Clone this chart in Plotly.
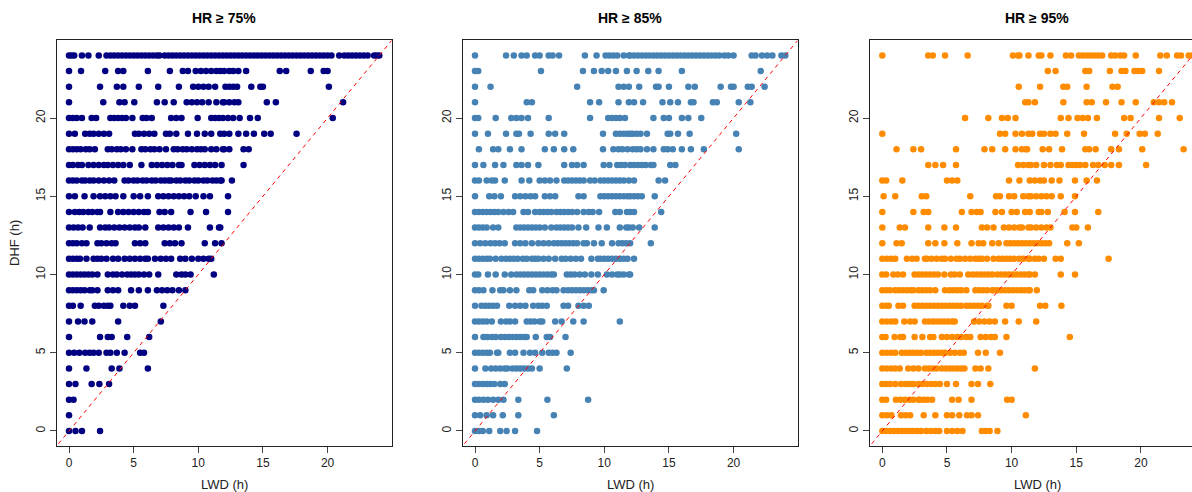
import plotly.graph_objects as go

# DHF levels (hours, integer rows 0..24)
dhf_levels = list(range(25))
tick_vals = [0, 5, 10, 15, 20]
tick_text = ["0", "5", "10", "15", "20"]
panel_titles = ["HR \u2265 75%", "HR \u2265 85%", "HR \u2265 95%"]
panel_colors = ["#000080", "#4682B4", "#FF8C00"]

# LWD values (h) for each DHF level, HR >= 75%
hr75_rows = [
    [0, 0.5, 1.0, 2.4],
    [0],
    [0, 0.35],
    [0, 0.5, 1.75, 2.35, 3.1],
    [0, 1.35, 3.3, 3.9, 6.1],
    [0, 0.4, 0.8, 1.25, 1.6, 1.9, 2.3, 2.9, 3.2, 3.7, 4.3, 5.5, 5.8],
    [0, 2.4, 3.0, 3.3, 4.5, 6.2],
    [0, 0.7, 1.2, 1.8, 3.8, 7.1],
    [0, 0.3, 0.9, 2.0, 2.3, 2.7, 3.0, 3.2, 4.2, 4.7, 5.1, 7.3],
    [0, 0.3, 0.6, 0.9, 1.2, 1.6, 1.8, 2.2, 3.0, 3.4, 3.8, 4.8, 5.4, 6.1, 6.8, 7.2, 7.6, 8.0, 8.5, 9.0],
    [0, 0.3, 0.6, 0.9, 1.2, 1.5, 1.8, 2.2, 3.0, 3.4, 3.7, 4.1, 4.5, 4.8, 5.1, 5.4, 5.8, 6.2, 6.9, 8.3, 8.7, 9.0, 9.4, 11.2],
    [0, 0.3, 0.6, 0.85, 1.35, 1.9, 2.2, 2.5, 2.9, 3.4, 3.8, 4.3, 4.7, 5.1, 5.5, 5.9, 6.1, 6.65, 7.1, 7.5, 7.9, 8.6, 9.0, 9.5, 10.0, 10.4, 10.8, 11.0],
    [0, 0.3, 0.6, 1.0, 1.35, 2.2, 2.5, 2.9, 3.3, 3.6, 5.1, 5.5, 5.9, 7.4, 7.8, 8.2, 8.7, 10.5, 11.3, 11.8],
    [0, 0.35, 0.7, 1.05, 1.6, 2.4, 2.8, 3.1, 3.5, 3.9, 4.3, 4.7, 5.1, 5.4, 5.9, 6.9, 7.3, 7.7, 8.1, 8.5, 9.2, 10.9, 11.6, 11.7],
    [0, 0.45, 0.8, 1.1, 1.5, 1.8, 2.2, 2.4, 3.2, 3.8, 4.2, 4.6, 5.0, 5.4, 5.8, 6.1, 7.0, 7.4, 7.9, 9.4, 10.6, 12.3],
    [0, 0.45, 1.2, 1.9, 2.4, 2.8, 3.2, 3.6, 4.2, 5.0, 5.5, 6.1, 6.9, 7.3, 7.7, 8.1, 8.5, 8.9, 9.3, 9.8, 10.4, 10.9, 12.3],
    [0, 0.3, 0.6, 1.0, 1.25, 1.6, 1.9, 2.3, 2.7, 3.1, 3.5, 4.3, 4.6, 5.0, 5.3, 5.7, 6.0, 6.4, 6.7, 7.1, 7.4, 7.7,
     7.9, 8.3, 8.6, 9.0, 9.3, 9.7, 10.0, 10.4, 10.7, 11.1, 11.4, 11.7, 11.8, 12.6],
    [0, 0.3, 0.7, 1.0, 1.5, 1.9, 2.3, 2.7, 3.0, 3.4, 3.8, 4.2, 4.7, 5.6, 6.4, 6.8, 7.2, 7.6, 8.0, 8.5, 8.7,
     9.7, 10.1, 10.5, 10.9, 11.3, 11.8, 13.5],
    [0, 0.3, 0.6, 0.9, 1.3, 1.6, 2.0, 3.0, 3.3, 3.7, 4.0, 4.4, 4.9, 5.6, 5.9, 6.3, 6.6, 7.0, 7.5,
     8.1, 8.4, 8.8, 9.1, 9.5, 9.9, 10.2, 10.5, 11.0, 11.4, 11.9, 12.0, 12.4, 13.5, 13.9],
    [0, 0.45, 1.25, 1.6, 1.9, 2.3, 2.7, 3.1, 5.1, 5.4, 5.8, 6.2, 6.6, 7.5, 7.8, 8.3, 9.2, 9.9, 10.5, 11.0, 11.7,
     12.0, 12.4, 13.1, 13.7, 14.3, 15.1, 15.6, 17.6],
    [0, 0.3, 0.6, 1.0, 1.75, 2.1, 3.2, 3.5, 3.8, 4.1, 4.4, 4.9, 5.7, 6.0, 6.4, 7.9, 8.3, 8.7, 9.95, 11.0, 11.3, 11.6,
     11.9, 12.3, 12.7, 13.2, 14.0, 14.6, 20.4],
    [0, 2.65, 3.9, 4.3, 5.05, 6.8, 7.4, 8.1, 9.1, 9.5, 9.9, 10.3, 10.8, 11.4, 11.9, 12.0, 12.4, 12.8, 13.1, 15.3, 16.0, 21.2],
    [0, 2.4, 3.7, 4.2, 5.4, 6.9, 8.5, 9.6, 10.0, 10.4, 10.8, 11.3, 12.1, 12.4, 12.7, 13.0, 14.1, 14.8, 15.0, 20.1],
    [0, 0.93, 2.8, 3.8, 4.2, 6.1, 7.8, 8.8, 9.2, 9.8, 10.2, 10.6, 11.0, 11.4, 11.7, 12.0, 12.4, 12.7, 13.1, 13.7,
     16.3, 16.8, 18.7, 19.7, 20.0],
    [0, 0.2, 0.4, 1.0, 1.5, 2.3, 2.9, 3.2, 3.5, 3.8, 4.1, 4.4, 4.7, 5.0, 5.3, 5.6, 5.9, 6.2, 6.5, 6.8, 7.0,
     7.4, 7.7, 8.0, 8.3, 8.6, 8.9, 9.2, 9.5, 9.8, 10.1, 10.4, 10.7, 11.0, 11.3, 11.6, 11.9, 12.2, 12.5, 12.8,
     13.1, 13.4, 13.7, 14.0, 14.3, 14.6, 14.9, 15.2, 15.5, 15.8, 16.1, 16.4, 16.7, 17.0, 17.3, 17.6, 17.9,
     18.2, 18.5, 18.8, 19.1, 19.4, 19.7, 20.0, 20.3, 20.9, 21.3, 21.6, 21.9, 22.2, 22.5, 22.8, 23.1, 23.6, 23.8, 24.0],
]

# LWD values (h) for each DHF level, HR >= 85%
hr85_rows = [
    [0, 0.3, 0.6, 1.1, 1.95, 2.45, 3.1, 4.8],
    [0, 0.4, 0.9, 1.4, 2.15, 3.35, 6.1],
    [0, 0.3, 0.65, 1.0, 1.4, 1.8, 2.2, 3.35, 5.6, 8.75],
    [0, 0.3, 0.6, 0.9, 1.2, 1.5, 1.95, 2.3],
    [0, 0.8, 1.25, 1.6, 1.95, 2.3, 2.5, 2.9, 3.2, 3.5, 3.8, 4.1, 4.4, 5.0, 7.1],
    [0, 0.3, 0.6, 0.9, 1.15, 1.7, 1.8, 2.7, 3.1, 3.75, 4.25, 4.65, 5.2, 5.7, 6.0, 6.3, 7.4],
    [0, 0.65, 0.95, 1.3, 1.6, 2.0, 2.3, 2.6, 2.9, 3.2, 3.5, 3.8, 4.0, 4.7, 5.55, 5.8, 7.0],
    [0, 0.3, 0.6, 0.9, 1.3, 2.0, 2.4, 2.7, 3.1, 4.0, 4.3, 4.6, 5.0, 5.2, 6.2, 6.7, 7.6, 8.4, 11.2],
    [0, 0.5, 0.8, 1.1, 1.4, 1.7, 2.65, 3.1, 3.5, 3.9, 4.5, 4.9, 5.2, 5.55, 6.85, 7.2, 8.0, 8.4, 8.8],
    [0, 0.3, 0.65, 1.35, 1.95, 2.2, 2.7, 3.2, 4.2, 4.5, 5.2, 5.6, 6.0, 6.3, 6.85, 7.2, 7.5, 7.8, 8.1, 8.4, 8.7, 9.0, 9.2, 9.95],
    [0, 0.25, 1.0, 1.6, 2.3, 2.8, 3.2, 3.5, 3.8, 4.1, 4.4, 4.7, 5.0, 5.3, 5.6, 5.9, 6.1, 7.1, 7.4, 7.7, 8.1, 8.5,
     9.0, 9.5, 10.2, 10.6, 11.0, 11.2, 11.5, 11.9, 12.0],
    [0, 0.3, 0.6, 0.9, 1.15, 1.6, 2.05, 2.4, 2.7, 3.0, 3.3, 3.7, 4.0, 4.4, 4.65, 4.9, 5.3, 5.7, 6.2, 6.7, 7.0, 7.4,
     7.8, 8.2, 9.0, 9.5, 9.7, 10.0, 10.3, 10.6, 10.9, 11.2, 11.5, 11.8, 12.3],
    [0, 0.4, 0.8, 1.2, 1.55, 1.9, 2.3, 3.1, 3.5, 3.9, 4.4, 4.9, 5.3, 5.7, 6.1, 6.4, 6.7, 7.0, 7.3, 7.6, 7.9, 8.4,
     8.65, 9.2, 9.8, 10.6, 11.1, 11.4, 11.7, 12.0, 13.6],
    [0, 0.3, 0.6, 0.9, 1.4, 1.8, 3.2, 3.5, 3.8, 4.1, 4.4, 4.7, 5.0, 5.4, 5.9, 6.3, 6.6, 6.9, 7.2, 7.5, 8.0, 8.6,
     9.55, 10.2, 11.2, 11.7, 11.9, 12.2, 12.7, 13.9],
    [0, 0.3, 0.6, 0.9, 1.2, 1.5, 1.8, 2.2, 2.6, 2.95, 3.75, 4.1, 4.65, 5.0, 5.3, 5.6, 5.9, 6.3, 6.6, 6.9, 7.2, 7.5,
     7.9, 8.4, 8.8, 9.1, 9.6, 10.85, 11.2, 11.75, 12.0, 12.3, 14.4],
    [0, 1.1, 1.5, 2.0, 3.1, 3.5, 3.9, 4.3, 4.65, 5.4, 5.8, 6.2, 8.0, 8.4, 9.7, 10.0, 10.3, 10.6, 10.9, 11.2, 11.5,
     11.8, 12.0, 12.3, 12.6, 12.9, 13.9],
    [0, 0.3, 0.9, 1.3, 1.55, 2.3, 3.6, 4.2, 5.0, 5.4, 5.8, 6.3, 6.9, 7.2, 7.5, 7.8, 8.1, 8.4, 8.9, 9.25, 9.7, 10.0,
     10.3, 10.6, 10.9, 11.2, 11.5, 11.9, 12.3, 14.2, 14.7],
    [0, 0.65, 1.55, 2.2, 3.2, 3.6, 4.1, 4.9, 6.9, 7.5, 7.9, 8.4, 9.95, 10.4, 11.0, 11.3, 11.6, 12.0, 12.3, 12.6,
     12.9, 13.2, 13.6, 13.8, 15.1, 15.5],
    [0.3, 1.4, 1.8, 2.7, 3.6, 5.4, 6.1, 6.9, 7.6, 9.9, 10.7, 11.1, 11.4, 11.8, 12.2, 12.5, 12.8, 13.3, 13.8, 14.6,
     14.9, 15.3, 16.0, 16.7, 17.7, 20.4],
    [0, 1.0, 2.4, 3.2, 3.4, 4.3, 5.7, 6.2, 6.9, 9.9, 10.9, 11.2, 11.5, 11.8, 12.0, 12.2, 12.5, 12.8, 13.3, 14.9,
     15.1, 15.7, 16.6, 20.2],
    [0, 0.25, 1.6, 2.8, 3.2, 3.6, 4.1, 5.7, 8.9, 10.3, 10.6, 10.9, 11.2, 11.6, 13.8, 14.6, 15.0, 16.0, 16.5, 17.5],
    [0, 4.0, 4.4, 8.9, 9.6, 11.1, 11.9, 12.3, 13.0, 14.5, 15.1, 15.7, 16.7, 16.9, 18.4, 18.7, 20.4, 21.3],
    [0, 1.2, 7.9, 11.1, 11.5, 11.9, 12.7, 14.0, 14.2, 15.0, 16.5, 17.0, 19.0, 19.8, 20.0, 21.1, 21.4, 22.4],
    [0, 0.25, 5.1, 8.35, 9.2, 9.8, 10.3, 10.9, 11.75, 12.5, 13.4, 14.2, 16.0, 22.1],
    [0, 2.4, 3.0, 3.6, 4.0, 4.65, 5.0, 5.7, 6.0, 6.5, 8.5, 9.4, 10.1, 10.4, 10.7, 11.0, 11.5, 11.9, 12.0, 12.3,
     12.6, 12.9, 13.2, 13.5, 13.8, 14.1, 14.4, 14.7, 15.0, 15.3, 15.6, 15.9, 16.2, 16.5, 16.8, 17.1, 17.4, 17.7,
     18.0, 18.3, 18.6, 18.9, 19.3, 19.6, 20.0, 21.4, 21.7, 22.2, 22.6, 23.0, 23.7, 24.0],
]

# LWD values (h) for each DHF level, HR >= 95%
hr95_rows = [
    [0, 0.3, 0.6, 0.9, 1.2, 1.5, 1.8, 2.1, 2.4, 2.7, 3.0, 3.4, 3.75, 4.1, 4.4, 5.0, 5.4, 5.8, 6.2, 7.7, 8.0, 8.3, 8.9],
    [0, 0.35, 0.7, 1.45, 1.8, 2.15, 3.2, 4.1, 5.0, 5.4, 5.95, 6.55, 6.9, 7.4, 11.1],
    [0, 0.3, 1.05, 1.4, 1.75, 2.1, 2.4, 2.8, 2.9, 3.2, 3.5, 3.85, 5.4, 5.9, 6.9, 9.65, 10.0],
    [0, 0.3, 0.6, 1.0, 1.45, 1.8, 2.1, 2.4, 2.8, 3.1, 3.45, 3.8, 4.1, 4.45, 5.0, 5.7, 6.9, 7.4, 8.35],
    [0, 0.35, 0.7, 1.0, 1.35, 2.0, 2.4, 2.8, 3.3, 3.6, 3.9, 4.2, 4.6, 4.9, 5.2, 5.5, 5.8, 6.1, 6.35, 7.2, 7.6, 8.2, 11.8],
    [0, 0.35, 0.7, 1.0, 1.5, 1.8, 2.1, 2.4, 2.7, 3.0, 3.4, 3.7, 4.0, 4.3, 4.6, 4.85, 5.25, 5.6, 6.0, 6.3, 7.4, 8.0, 9.1],
    [0, 0.25, 0.95, 1.4, 1.6, 2.5, 3.1, 3.7, 3.95, 4.6, 5.0, 5.4, 5.8, 6.1, 6.5, 6.8, 7.6, 8.0, 8.4, 8.7, 9.6, 14.5],
    [0, 0.35, 0.7, 1.0, 1.7, 2.15, 2.5, 3.3, 3.6, 3.9, 4.2, 4.5, 4.8, 5.1, 5.4, 5.6, 7.1, 7.5, 7.9, 8.3, 8.7, 9.5,
     10.55, 11.9],
    [0, 0.3, 0.5, 1.25, 1.6, 2.5, 2.8, 3.1, 3.4, 3.7, 4.0, 4.3, 4.6, 4.9, 5.2, 5.5, 5.8, 6.1, 6.5, 6.8, 7.1, 7.4,
     7.7, 8.1, 8.2, 9.6, 10.0, 12.2, 12.6, 13.85],
    [0, 0.3, 0.6, 1.0, 1.3, 1.6, 1.9, 2.2, 2.4, 2.8, 3.1, 3.4, 3.7, 4.1, 4.85, 5.2, 5.5, 5.8, 6.1, 6.5, 7.2, 7.5,
     7.8, 8.1, 8.5, 8.6, 8.9, 9.2, 9.5, 9.8, 10.1, 10.4, 10.7, 11.0, 11.3, 11.4, 11.95],
    [0, 0.3, 0.85, 1.2, 1.6, 2.5, 2.8, 3.1, 3.4, 3.7, 4.0, 4.3, 4.8, 5.3, 5.6, 6.0, 6.65, 7.0, 7.3, 7.6, 7.9, 8.2,
     8.5, 8.9, 9.2, 9.5, 9.8, 10.1, 10.4, 10.7, 11.0, 11.3, 11.4, 11.8, 13.8, 14.9],
    [0, 0.35, 0.7, 1.0, 1.9, 2.3, 2.65, 3.3, 3.45, 3.8, 4.2, 4.6, 4.85, 5.3, 5.75, 6.0, 6.4, 6.8, 7.2, 7.45, 7.7,
     8.1, 8.6, 9.0, 9.3, 9.6, 9.9, 10.2, 10.6, 10.9, 11.3, 11.4, 11.8, 12.1, 12.5, 13.4, 13.8, 17.5],
    [0, 1.1, 1.5, 3.55, 4.1, 4.8, 5.8, 6.9, 7.45, 7.8, 8.5, 9.0, 9.6, 9.9, 10.2, 10.5, 10.8, 11.1, 11.4, 11.7,
     12.0, 12.3, 12.6, 12.9, 14.3, 15.2],
    [0, 1.35, 1.75, 3.55, 4.8, 5.7, 7.7, 8.1, 8.6, 9.4, 9.8, 10.2, 10.6, 10.8, 11.3, 11.5, 11.9, 12.3, 12.7, 13.0,
     14.7, 15.0, 15.9],
    [0, 2.4, 3.2, 3.55, 6.15, 6.9, 7.3, 7.6, 8.75, 9.25, 10.0, 10.4, 11.05, 11.4, 12.1, 12.3, 12.8, 14.1, 14.9, 16.7],
    [0.1, 1.0, 3.05, 3.4, 6.8, 8.8, 9.1, 9.8, 10.2, 10.9, 11.3, 11.5, 11.9, 12.3, 12.7, 13.1, 13.8, 14.9],
    [0, 0.3, 1.55, 5.0, 5.4, 5.8, 9.8, 10.6, 11.4, 11.8, 12.2, 12.5, 13.1, 13.7, 14.9, 15.8, 16.6],
    [3.55, 4.1, 4.7, 5.7, 10.5, 10.9, 11.3, 11.5, 11.9, 12.5, 13.0, 13.5, 13.8, 14.4, 14.7, 15.0, 15.3, 15.7,
     16.3, 16.7, 17.2, 17.7, 18.3, 20.4],
    [1.1, 2.4, 3.0, 5.7, 7.9, 8.5, 9.5, 10.3, 10.8, 11.1, 11.2, 12.4, 12.9, 13.9, 15.7, 16.0, 16.5, 17.7, 18.3,
     20.1, 23.3],
    [0, 9.1, 9.5, 10.3, 10.8, 11.3, 11.6, 12.2, 12.5, 13.0, 13.4, 14.3, 15.6, 18.0, 18.9, 19.9, 20.3, 21.3],
    [6.4, 8.2, 9.25, 9.7, 10.3, 13.8, 14.4, 15.1, 15.5, 15.9, 16.6, 18.7, 19.2, 21.4, 23.0],
    [11.05, 11.3, 11.8, 14.0, 15.8, 16.2, 17.3, 18.5, 19.6, 21.0, 21.4, 21.8, 22.4],
    [10.55, 12.2, 14.0, 14.3, 15.8, 17.8, 18.2],
    [12.8, 13.4, 15.7, 16.0, 17.6, 18.5, 18.8, 19.5, 19.8, 20.1, 21.4],
    [0, 3.55, 3.9, 4.85, 6.6, 10.1, 10.5, 10.6, 11.3, 12.1, 12.3, 13.0, 14.2, 14.6, 15.2, 15.5, 15.8, 16.1, 16.4,
     16.7, 17.0, 17.7, 18.0, 18.4, 18.7, 19.6, 21.5, 22.0, 22.8, 23.1, 23.7, 24.0],
]

all_rows = [hr75_rows, hr85_rows, hr95_rows]

W, H = 1192, 492
# panel pixel geometry (left, right)
panels_px = [(56.6, 391.7), (462.6, 797.7), (869.9, 1192.0)]
x_ranges = [[-0.96, 24.96], [-0.96, 24.96], [-0.96, 23.95]]
plot_top, plot_bottom = 40.4, 446.0
y_dom = [(H - plot_bottom) / H, (H - plot_top) / H]

fig = go.Figure()
FONT = "Liberation Sans, Arial, sans-serif"

for i, rows in enumerate(all_rows):
    xs, ys = [], []
    for level, vals in zip(dhf_levels, rows):
        for v in vals:
            xs.append(v)
            ys.append(level)
    ax = "" if i == 0 else str(i + 1)
    fig.add_trace(go.Scatter(
        x=xs, y=ys, mode="markers", xaxis="x" + ax, yaxis="y" + ax,
        marker=dict(color=panel_colors[i], size=6.5, line=dict(width=0)),
        showlegend=False, hoverinfo="skip"))
    fig.add_trace(go.Scatter(
        x=[-2, 26], y=[-2, 26], mode="lines", xaxis="x" + ax, yaxis="y" + ax,
        line=dict(color="red", width=1, dash="4px,4px"),
        showlegend=False, hoverinfo="skip"))

    l, r = panels_px[i]
    common = dict(
        showgrid=False, zeroline=False, showline=True, linecolor="#222", linewidth=1,
        ticks="outside", ticklen=6, tickcolor="#444", tickvals=tick_vals, ticktext=tick_text,
        tickfont=dict(family=FONT, size=12, color="#222"), automargin=False, fixedrange=True)
    fig.layout["xaxis" + ax] = dict(common, domain=[l / W, r / W], range=x_ranges[i],
                                   anchor="y" + ax, mirror=True)
    fig.layout["yaxis" + ax] = dict(common, domain=y_dom, range=[-0.96, 24.96],
                                   anchor="x" + ax, mirror=(i < 2), tickangle=-90)

    cx = (l + l + 335.1) / 2
    fig.add_annotation(text="<b>" + panel_titles[i] + "</b>", x=cx / W, y=(H - 18) / H,
                       xref="paper", yref="paper", showarrow=False,
                       xanchor="center", yanchor="middle",
                       font=dict(family=FONT, size=14, color="#000"))
    fig.add_annotation(text="LWD (h)", x=cx / W, y=(H - 484) / H, xref="paper", yref="paper",
                       showarrow=False, xanchor="center", yanchor="middle",
                       font=dict(family=FONT, size=13, color="#222"))

fig.add_annotation(text="DHF (h)", x=14 / W, y=(H - 243) / H, xref="paper", yref="paper",
                   showarrow=False, textangle=-90, xanchor="center", yanchor="middle",
                   font=dict(family=FONT, size=13, color="#222"))

fig.update_layout(width=W, height=H, margin=dict(l=0, r=0, t=0, b=0),
                  paper_bgcolor="white", plot_bgcolor="white")

fig.write_html("out.html", config={"displayModeBar": False},
               post_script="document.body.style.margin='0px';")
